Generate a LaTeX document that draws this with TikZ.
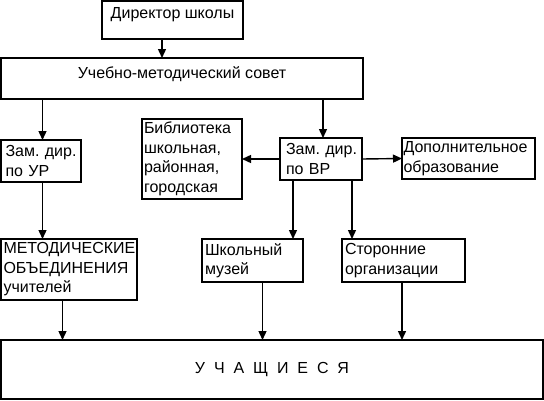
\documentclass[tikz,border=0pt]{standalone}
\usepackage{fontspec}
\setmainfont{Liberation Sans}
\usetikzlibrary{arrows.meta}
\tikzset{
  box/.style={draw, line width=2pt, outer sep=0pt, anchor=north west, font=\fontsize{16}{19.5}\selectfont},
  lbox/.style={box, align=left, inner ysep=0pt},
  arr/.style={line width=1.4pt, -{Triangle[length=9pt,width=8pt]}},
}
\begin{document}
\begin{tikzpicture}[x=1pt, y=-1pt]
\useasboundingbox (0,0) rectangle (544,400);
% boxes
\node[box, minimum width=141pt, inner sep=0pt, text height=17.5pt, text depth=20.5pt] (dir) at (102,1) {Директор школы};
\node[box, minimum width=362pt, inner sep=0pt, text height=20pt, text depth=21pt] (sov) at (1,58) {Учебно-методический совет};
\node[lbox, inner xsep=4.5pt, text width=71pt, minimum height=42pt] (zur) at (1,140) {Зам.~дир.\\по~УР};
\node[lbox, inner xsep=2pt, text width=96pt, minimum height=80pt] (lib) at (142,119) {Библиотека\\школьная,\\районная,\\городская};
\node[lbox, inner xsep=6pt, text width=70pt, minimum height=42pt] (zvr) at (280,138) {Зам.~дир.\\по~ВР};
\node[lbox, inner xsep=1.5pt, text width=130pt, minimum height=41pt] (dop) at (402,138) {Дополнительное\\образование};
\node[lbox, inner xsep=2.5pt, text width=131pt, minimum height=61pt] (met) at (1,239) {МЕТОДИЧЕСКИЕ\\ОБЪЕДИНЕНИЯ\\учителей};
\node[lbox, inner xsep=3pt, text width=95pt, minimum height=43pt] (muz) at (202,239) {Школьный\\музей};
\node[lbox, inner xsep=3pt, text width=117pt, minimum height=43pt] (sto) at (342,239) {Сторонние\\организации};
\node[box, minimum width=542pt, minimum height=59pt, inner sep=0pt] (uch) at (1,340) {У\ \ Ч\ \ А\ \ Щ\ \ И\ \ Е\ \ С\ \ Я};
% connector x positions
\coordinate (c1) at (162,0);
\coordinate (c2) at (42.5,0);
\coordinate (c3) at (323,0);
\coordinate (c4) at (293,0);
\coordinate (c5) at (352,0);
\coordinate (c6) at (62.5,0);
\coordinate (c7) at (262.5,0);
\coordinate (c8) at (402,0);
% connectors
\draw[arr] (dir.south -| c1) -- (sov.north -| c1);
\draw[arr] (sov.south -| c2) -- (zur.north -| c2);
\draw[arr] (sov.south -| c3) -- (zvr.north -| c3);
\draw[arr] (zvr.west) -- (lib.east);
\draw[arr] (zvr.east) -- (dop.west);
\draw[arr] (zur.south -| c2) -- (met.north -| c2);
\draw[arr] (zvr.south -| c4) -- (muz.north -| c4);
\draw[arr] (zvr.south -| c5) -- (sto.north -| c5);
\draw[arr] (met.south -| c6) -- (uch.north -| c6);
\draw[arr] (muz.south -| c7) -- (uch.north -| c7);
\draw[arr] (sto.south -| c8) -- (uch.north -| c8);
\end{tikzpicture}
\end{document}
